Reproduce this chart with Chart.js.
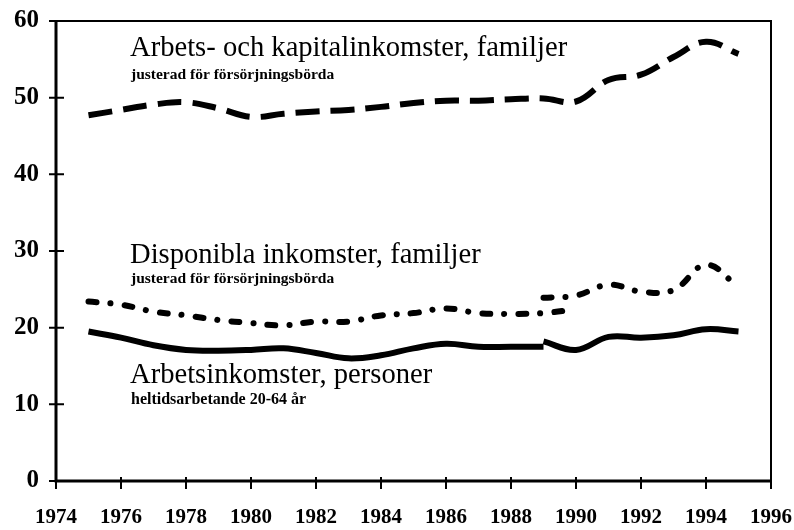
<!DOCTYPE html>
<html>
<head>
<meta charset="utf-8">
<script src="https://cdn.jsdelivr.net/npm/chart.js@4"></script>
<style>
  body { margin: 0; background: #fff; }
</style>
</head>
<body>
<canvas id="myChart" width="794" height="530"></canvas>
<script>
// Years on the x axis
var years = [1975, 1976, 1977, 1978, 1979, 1980, 1981, 1982, 1983, 1984, 1985,
  1986, 1987, 1988, 1989, 1990, 1991, 1992, 1993, 1994, 1995];

// Arbets- och kapitalinkomster, familjer (1975-1995)
var kapitalValues = [47.7, 48.4, 49.1, 49.4, 48.6, 47.5, 47.9, 48.2, 48.4, 48.8, 49.3,
  49.6, 49.6, 49.8, 49.9, 49.5, 52.3, 53.0, 55.3, 57.3, 55.7];

// Disponibla inkomster, familjer - old series 1975-1990, new series 1989-1995
var dispOldYears = years.slice(0, 16);
var dispOldValues = [23.4, 23.0, 22.1, 21.6, 21.0, 20.6, 20.3, 20.8, 20.8, 21.6, 21.9,
  22.5, 21.9, 21.8, 21.9, 22.4];
var dispNewYears = years.slice(14);
var dispNewValues = [23.9, 24.2, 25.6, 24.7, 24.9, 28.2, 25.3];

// Arbetsinkomster, personer - old series 1975-1989, new series 1989-1995
var arbOldYears = years.slice(0, 15);
var arbOldValues = [19.5, 18.7, 17.7, 17.1, 17.0, 17.1, 17.3, 16.7, 16.0, 16.4, 17.3,
  17.9, 17.5, 17.5, 17.5];
var arbNewYears = years.slice(14);
var arbNewValues = [18.2, 17.1, 18.8, 18.7, 19.0, 19.8, 19.5];

// Axis ticks
var xTicks = [1974, 1976, 1978, 1980, 1982, 1984, 1986, 1988, 1990, 1992, 1994, 1996];
var yTicks = [0, 10, 20, 30, 40, 50, 60];

// Text labels inside the plot
var labels = [
  { text: "Arbets- och kapitalinkomster, familjer", x: 130, y: 56, size: 28.6, bold: false },
  { text: "justerad för försörjningsbörda", x: 131, y: 79, size: 15.5, bold: true },
  { text: "Disponibla inkomster, familjer", x: 130, y: 263, size: 28.6, bold: false },
  { text: "justerad för försörjningsbörda", x: 131, y: 283, size: 15.5, bold: true },
  { text: "Arbetsinkomster, personer", x: 130, y: 383, size: 28.6, bold: false },
  { text: "heltidsarbetande 20-64 år", x: 131, y: 404, size: 16, bold: true },
];

function toPoints(xs, ys) {
  return xs.map(function (x, i) { return { x: x, y: ys[i] }; });
}

var serif = "'Liberation Serif', 'DejaVu Serif', serif";

var lineBase = {
  borderColor: "#000",
  borderWidth: 6,
  pointRadius: 0,
  fill: false,
  tension: 0.4,
};

// Draws the frame, axis lines, crossing tick marks and the text labels
var framePlugin = {
  id: "frame",
  afterDraw: function (chart) {
    var ctx = chart.ctx;
    var a = chart.chartArea;
    var xs = chart.scales.x;
    var ys = chart.scales.y;
    ctx.save();
    ctx.strokeStyle = "#000";
    ctx.lineWidth = 2;
    ctx.beginPath();
    ctx.moveTo(a.left, a.top);
    ctx.lineTo(a.right, a.top);
    ctx.lineTo(a.right, a.bottom);
    ctx.stroke();

    ctx.lineWidth = 3;
    ctx.beginPath();
    ctx.moveTo(a.left, a.top);
    ctx.lineTo(a.left, a.bottom);
    ctx.lineTo(a.right, a.bottom);
    ctx.stroke();

    ctx.lineWidth = 2;
    ctx.beginPath();
    yTicks.forEach(function (v) {
      var p = ys.getPixelForValue(v);
      ctx.moveTo(a.left - 7, p);
      ctx.lineTo(a.left + 8, p);
    });
    xTicks.forEach(function (v) {
      var p = xs.getPixelForValue(v);
      ctx.moveTo(p, a.bottom - 4);
      ctx.lineTo(p, a.bottom + 8);
    });
    ctx.stroke();

    ctx.fillStyle = "#000";
    ctx.textBaseline = "alphabetic";
    ctx.textAlign = "left";
    labels.forEach(function (l) {
      ctx.font = (l.bold ? "bold " : "") + l.size + "px " + serif;
      ctx.fillText(l.text, l.x, l.y);
    });
    ctx.restore();
  },
};

var ctx = document.getElementById("myChart").getContext("2d");

var myChart = new Chart(ctx, {
  type: "line",
  data: {
    datasets: [
      Object.assign({}, lineBase, {
        label: "Arbets- och kapitalinkomster, familjer",
        data: toPoints(years, kapitalValues),
        borderDash: [24, 11],
      }),
      Object.assign({}, lineBase, {
        label: "Disponibla inkomster, familjer (gammal)",
        data: toPoints(dispOldYears, dispOldValues),
        borderDash: [8, 14, 0.1, 14],
        borderCapStyle: "round",
      }),
      Object.assign({}, lineBase, {
        label: "Disponibla inkomster, familjer (ny)",
        data: toPoints(dispNewYears, dispNewValues),
        borderDash: [8, 14, 0.1, 14],
        borderCapStyle: "round",
      }),
      Object.assign({}, lineBase, {
        label: "Arbetsinkomster, personer (gammal)",
        data: toPoints(arbOldYears, arbOldValues),
      }),
      Object.assign({}, lineBase, {
        label: "Arbetsinkomster, personer (ny)",
        data: toPoints(arbNewYears, arbNewValues),
      }),
    ],
  },
  options: {
    responsive: false,
    animation: false,
    layout: { padding: { top: 21, right: 23, left: 0, bottom: 0 } },
    plugins: {
      legend: { display: false },
      tooltip: { enabled: false },
    },
    scales: {
      x: {
        type: "linear",
        min: 1974,
        max: 1996,
        afterFit: function (scale) {
          scale.height = 49;
          scale.paddingLeft = 0;
          scale.paddingRight = 0;
        },
        afterBuildTicks: function (scale) {
          scale.ticks = xTicks.map(function (v) { return { value: v }; });
        },
        grid: { display: false, drawTicks: false },
        border: { display: false },
        ticks: {
          padding: 24,
          color: "#000",
          maxRotation: 0,
          autoSkip: false,
          font: { family: serif, size: 21, weight: "bold" },
          callback: function (v) { return String(v); },
        },
      },
      y: {
        min: 0,
        max: 60,
        afterFit: function (scale) {
          scale.width = 56;
          scale.paddingTop = 0;
          scale.paddingBottom = 0;
        },
        afterBuildTicks: function (scale) {
          scale.ticks = yTicks.map(function (v) { return { value: v }; });
        },
        grid: { display: false, drawTicks: false },
        border: { display: false },
        ticks: {
          padding: 17,
          color: "#000",
          font: { family: serif, size: 25, weight: "bold" },
          callback: function (v) { return String(v); },
        },
      },
    },
  },
  plugins: [framePlugin],
});
</script>
</body>
</html>
